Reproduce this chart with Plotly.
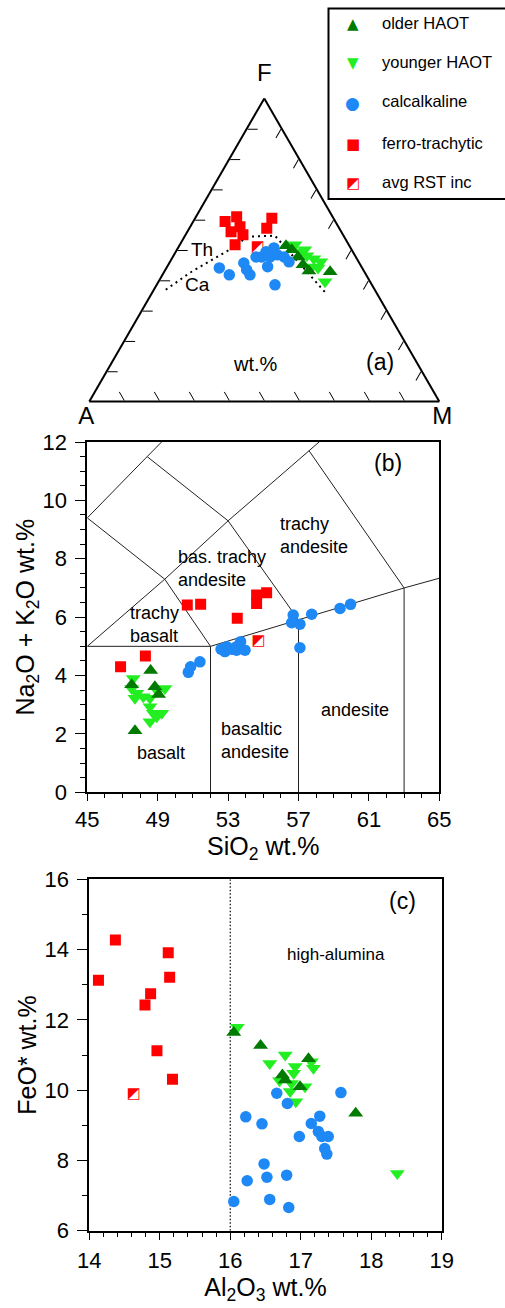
import plotly.graph_objects as go

# ---------------- data ----------------
# (a) AFM ternary (wt.%): F (top), A (bottom-left), M (bottom-right)
old_F = [51.4, 47.7, 45.1, 43.1, 42.8, 50.1]
old_A = [18.1, 16.5, 16.4, 15.7, 9.8, 17.1]
old_M = [30.5, 35.8, 38.5, 41.2, 47.4, 32.8]

young_F = [51.7, 49.4, 48.1, 47.1, 46.1, 44.4, 39.5, 50.1, 44.1]
young_A = [15.4, 15.1, 13.8, 12.3, 10.8, 14.2, 12.9, 13.4, 12.6]
young_M = [32.9, 35.5, 38.1, 40.6, 43.1, 41.4, 47.6, 36.5, 43.3]

calc_F = [44.1, 41.8, 45.7, 43.5, 41.8, 47.7, 44.5, 47.7, 50.7, 48.4, 47.7, 46.1, 38.5, 47.7, 49.4]
calc_A = [40.8, 39.1, 33.0, 33.3, 33.2, 26.9, 26.8, 24.5, 21.9, 22.1, 20.5, 19.9, 27.7, 28.5, 24.8]
calc_M = [15.1, 19.1, 21.3, 23.2, 25.0, 25.4, 28.7, 27.8, 27.4, 29.5, 31.8, 34.0, 33.8, 23.8, 25.8]

ferro_F = [59.4, 61.0, 57.7, 56.0, 55.0, 51.7, 60.5, 57.2]
ferro_A = [31.5, 27.4, 28.1, 31.5, 28.6, 32.5, 17.6, 20.7]
ferro_M = [9.1, 11.6, 14.2, 12.5, 16.4, 15.8, 21.9, 22.1]

avg_F = [50.8]
avg_A = [26.5]
avg_M = [22.7]

# tholeiitic / calc-alkaline divide (dotted)
thca_F = [36.9, 42.5, 50.2, 54.4, 54.7, 51.0, 36.0]
thca_A = [59.7, 50.0, 34.7, 27.5, 19.6, 18.6, 14.6]
thca_M = [3.4, 7.5, 15.1, 18.1, 25.7, 30.4, 49.4]

# (b) TAS: SiO2 vs Na2O+K2O
old_si = [48.60, 47.52, 48.84, 49.05, 47.71]
old_alk = [4.17, 3.68, 3.62, 3.35, 2.11]
young_si = [47.61, 47.52, 47.81, 48.18, 48.56, 49.41, 48.56, 48.75, 49.23, 48.56, 48.94, 47.71, 49.00]
young_alk = [3.90, 3.56, 3.39, 3.27, 3.22, 3.56, 2.93, 2.71, 2.71, 2.42, 2.59, 3.22, 3.45]
calc_si = [50.74, 50.87, 51.40, 52.82, 52.92, 53.20, 53.48, 53.71, 53.48, 53.96,
           56.70, 56.61, 57.08, 57.08, 57.75, 59.36, 59.96, 52.60]
calc_alk = [4.11, 4.30, 4.47, 4.82, 4.99, 4.90, 4.99, 5.16, 4.87, 4.87,
            6.07, 5.81, 5.76, 4.95, 6.10, 6.30, 6.44, 4.90]
ferro_si = [46.89, 48.30, 50.68, 51.44, 53.52, 54.62, 54.62, 55.19]
ferro_alk = [4.30, 4.67, 6.42, 6.44, 5.96, 6.47, 6.76, 6.84]
avg_si = [54.72]
avg_alk = [5.18]

# TAS field boundaries (Le Bas et al. 1986), polylines
tas_lines = [
    [(45, 5), (52, 5)],
    [(52, 0), (52, 5)],
    [(52, 5), (57, 5.9), (63, 7), (69, 8)],
    [(57, 0), (57, 5.9)],
    [(63, 0), (63, 7)],
    [(45, 5), (49.4, 7.3), (52, 5)],
    [(49.4, 7.3), (53, 9.3), (57, 5.9)],
    [(53, 9.3), (57.6, 11.7), (63, 7)],
    [(45, 9.4), (49.4, 7.3)],
    [(45, 9.4), (48.4, 11.5), (53, 9.3)],
    [(48.4, 11.5), (52.5, 14)],
    [(57.6, 11.7), (61, 13.5)],
]

# (c) Al2O3 vs FeO*
old_al = [16.05, 16.43, 16.74, 16.78, 16.99, 17.11, 17.78]
old_fe = [11.64, 11.27, 10.43, 10.29, 10.10, 10.89, 9.34]
young_al = [16.10, 16.56, 16.78, 16.92, 16.90, 17.15, 17.18, 16.70, 16.87, 16.85, 17.06, 16.93, 18.37]
young_fe = [11.79, 10.76, 11.00, 10.67, 10.48, 10.81, 10.62, 10.27, 10.19, 9.96, 10.10, 9.67, 7.63]
calc_al = [16.66, 16.81, 17.57, 16.22, 16.45, 17.27, 17.15, 17.25, 17.30, 17.39,
           16.98, 17.34, 17.37, 16.48, 16.52, 16.80, 16.24, 16.05, 16.56, 16.83]
calc_fe = [9.91, 9.62, 9.93, 9.24, 9.04, 9.26, 9.05, 8.82, 8.68, 8.68,
           8.68, 8.34, 8.18, 7.90, 7.52, 7.58, 7.42, 6.83, 6.89, 6.66]
ferro_al = [14.13, 14.37, 15.12, 15.14, 14.87, 14.79, 14.96, 15.18]
ferro_fe = [13.13, 14.27, 13.91, 13.21, 12.74, 12.42, 11.12, 10.31]
avg_al = [14.63]
avg_fe = [9.89]
high_alumina_limit = 16

legend_names = ["older HAOT", "younger HAOT", "calcalkaline", "ferro-trachytic", "avg RST inc"]

# ---------------- styles ----------------
W, H = 505, 1308
FONT = "Liberation Sans, Arial, Helvetica, sans-serif"
SYMF = "DejaVu Sans"
C_OLD = "#007a00"
C_YOUNG = "#22ee22"
C_CALC = "#1e88f5"
C_FERRO = "#ff0000"
HALF = "\u25E9"


def px(x):
    return x / W


def py(y):
    return 1 - y / H


styles = {
    "old": dict(symbol="triangle-up", size=13, color=C_OLD),
    "young": dict(symbol="triangle-down", size=13, color=C_YOUNG),
    "calc": dict(symbol="circle", size=11.5, color=C_CALC),
    "ferro": dict(symbol="square", size=11, color=C_FERRO),
}

fig = go.Figure()

# ---- (a) ternary ----
fig.add_trace(go.Scatterternary(a=thca_F, b=thca_A, c=thca_M, mode="lines",
                                line=dict(color="black", width=2, dash="2px,4px"),
                                showlegend=False, subplot="ternary", hoverinfo="skip"))
fig.add_trace(go.Scatterternary(a=ferro_F, b=ferro_A, c=ferro_M, mode="markers",
                                marker=dict(**styles["ferro"], line=dict(width=0)),
                                showlegend=False, subplot="ternary"))
fig.add_trace(go.Scatterternary(a=avg_F, b=avg_A, c=avg_M, mode="text", text=[HALF],
                                textfont=dict(family=SYMF, size=15, color=C_FERRO),
                                showlegend=False, subplot="ternary"))
for key, (F, A, M) in [("young", (young_F, young_A, young_M)),
                       ("old", (old_F, old_A, old_M)),
                       ("calc", (calc_F, calc_A, calc_M))]:
    fig.add_trace(go.Scatterternary(a=F, b=A, c=M, mode="markers",
                                    marker=dict(**styles[key], line=dict(width=0)),
                                    showlegend=False, subplot="ternary"))

# ---- (b) TAS ----
for seg in tas_lines:
    fig.add_trace(go.Scatter(x=[p[0] for p in seg], y=[p[1] for p in seg], mode="lines",
                             line=dict(color="#222222", width=1), showlegend=False,
                             hoverinfo="skip", xaxis="x", yaxis="y"))
fig.add_trace(go.Scatter(x=ferro_si, y=ferro_alk, mode="markers", marker=dict(**styles["ferro"]),
                         showlegend=False, xaxis="x", yaxis="y"))
fig.add_trace(go.Scatter(x=avg_si, y=avg_alk, mode="text", text=[HALF],
                         textfont=dict(family=SYMF, size=15, color=C_FERRO),
                         showlegend=False, xaxis="x", yaxis="y"))
for key, (xs, ys) in [("young", (young_si, young_alk)), ("old", (old_si, old_alk)),
                      ("calc", (calc_si, calc_alk))]:
    fig.add_trace(go.Scatter(x=xs, y=ys, mode="markers", marker=dict(**styles[key]),
                             showlegend=False, xaxis="x", yaxis="y"))

# ---- (c) Al2O3 vs FeO* ----
fig.add_trace(go.Scatter(x=[high_alumina_limit, high_alumina_limit], y=[6, 16], mode="lines",
                         line=dict(color="black", width=1.2, dash="1.5px,2px"),
                         showlegend=False, hoverinfo="skip", xaxis="x2", yaxis="y2"))
fig.add_trace(go.Scatter(x=ferro_al, y=ferro_fe, mode="markers", marker=dict(**styles["ferro"]),
                         showlegend=False, xaxis="x2", yaxis="y2"))
fig.add_trace(go.Scatter(x=avg_al, y=avg_fe, mode="text", text=[HALF],
                         textfont=dict(family=SYMF, size=15, color=C_FERRO),
                         showlegend=False, xaxis="x2", yaxis="y2"))
for key, (xs, ys) in [("young", (young_al, young_fe)), ("old", (old_al, old_fe)),
                      ("calc", (calc_al, calc_fe))]:
    fig.add_trace(go.Scatter(x=xs, y=ys, mode="markers", marker=dict(**styles[key]),
                             showlegend=False, xaxis="x2", yaxis="y2"))

# ---------------- layout ----------------
CORNERF = dict(size=24, family=FONT, color="black")


def tern_ax(title):
    return dict(min=0, showgrid=False, showline=True, linecolor="black", linewidth=2,
                ticks="inside", ticklen=10, tickwidth=1.2, tickcolor="black",
                tickmode="linear", tick0=0, dtick=10, showticklabels=False,
                title=dict(text=title, font=CORNERF))


TICKF = dict(size=22, family=FONT, color="black")
TITLEF = dict(size=25, family=FONT, color="black")
common_ax = dict(showline=True, linecolor="black", linewidth=2, mirror=True,
                 ticks="outside", tickcolor="black", tickwidth=1.2, showgrid=False,
                 zeroline=False, tickfont=TICKF, automargin=False)

fig.update_layout(
    template="none",
    width=W, height=H, autosize=False,
    margin=dict(l=0, r=0, t=0, b=0, pad=0),
    paper_bgcolor="white", plot_bgcolor="white",
    font=dict(family=FONT, color="black"),
    showlegend=False,
    ternary=dict(sum=100, bgcolor="white",
                 domain=dict(x=[px(89.3), px(439.3)], y=[py(401.7), py(98.3)]),
                 aaxis=tern_ax(""), baxis=tern_ax("A"), caxis=tern_ax("M")),
    xaxis=dict(**common_ax, domain=[px(87.3), px(439.3)], range=[45, 65],
               tickmode="linear", tick0=45, dtick=4, ticklen=7, ticklabelstandoff=-1,
               minor=dict(dtick=1, ticks="outside", ticklen=4, tickcolor="black", tickwidth=1),
               title=dict(text="SiO<sub>2</sub> wt.%", font=TITLEF, standoff=0),
               anchor="y"),
    yaxis=dict(**common_ax, domain=[py(792.3), py(442)], range=[0, 12],
               tickmode="linear", tick0=0, dtick=2, ticklen=10, ticklabelstandoff=4,
               minor=dict(dtick=0.5, ticks="outside", ticklen=5, tickcolor="black", tickwidth=1),
               title=dict(text="Na<sub>2</sub>O + K<sub>2</sub>O wt.%", font=TITLEF, standoff=1),
               anchor="x"),
    xaxis2=dict(**common_ax, domain=[px(89.3), px(441.7)], range=[14, 19],
                tickmode="linear", tick0=14, dtick=1, ticklen=7, ticklabelstandoff=2,
                minor=dict(dtick=0.2, ticks="outside", ticklen=4, tickcolor="black", tickwidth=1),
                title=dict(text="Al<sub>2</sub>O<sub>3</sub> wt.%", font=TITLEF, standoff=0),
                anchor="y2"),
    yaxis2=dict(**common_ax, domain=[py(1230.7), py(879.3)], range=[6, 16],
                tickmode="linear", tick0=6, dtick=2, ticklen=10, ticklabelstandoff=4,
                minor=dict(dtick=1, ticks="outside", ticklen=5, tickcolor="black", tickwidth=1),
                title=dict(text="FeO* wt.%", font=TITLEF, standoff=1),
                anchor="x2"),
)

ann = []


def txt(x, y, s, size=18, xref="paper", yref="paper", xanchor="center", align="center", family=FONT, color="black"):
    ann.append(dict(x=x, y=y, xref=xref, yref=yref, text=s, showarrow=False,
                    xanchor=xanchor, yanchor="middle", align=align,
                    font=dict(size=size, family=family, color=color)))


# ternary labels
txt(px(264.7), py(72), "F", size=24)
txt(px(201.7), py(249.3), "Th", size=19)
txt(px(197), py(284), "Ca", size=19)
txt(px(255), py(364), "wt.%", size=20)
txt(px(380), py(362), "(a)", size=23)

# TAS field names
txt(55.85, 8.79, "trachy<br>andesite", xref="x", yref="y", xanchor="left", align="left")
txt(50.02, 7.67, "bas. trachy<br>andesite", xref="x", yref="y", xanchor="left", align="left")
txt(47.33, 5.74, "trachy<br>basalt", xref="x", yref="y", xanchor="left", align="left")
txt(49.17, 1.34, "basalt", xref="x", yref="y")
txt(52.48, 1.79, "basaltic<br>andesite", xref="x", yref="y", xanchor="left", align="left")
txt(60.21, 2.82, "andesite", xref="x", yref="y")
txt(62.1, 11.27, "(b)", size=23, xref="x", yref="y")

# (c) labels
txt(17.50, 13.87, "high-alumina", size=17, xref="x2", yref="y2")
txt(18.45, 15.39, "(c)", size=23, xref="x2", yref="y2")

# legend (custom box)
leg_icons = ["\u25B2", "\u25BC", "\u25CF", "\u25A0", HALF]
leg_colors = [C_OLD, C_YOUNG, C_CALC, C_FERRO, C_FERRO]
leg_icon_size = [15, 15, 17, 15, 15]
leg_y = [24, 63.3, 103.3, 144, 183.3]
leg_text_y = [22.7, 61.7, 101, 142.7, 181.7]
for name, ic, col, isz, yi, yt in zip(legend_names, leg_icons, leg_colors, leg_icon_size, leg_y, leg_text_y):
    txt(px(352.7), py(yi), ic, size=isz, family=SYMF, color=col)
    txt(px(380), py(yt), name, size=16.5, xanchor="left", align="left")

fig.update_layout(annotations=ann,
                  shapes=[dict(type="rect", xref="paper", yref="paper",
                               x0=px(328.5), x1=px(520), y0=py(199), y1=py(8.5),
                               line=dict(color="black", width=2), fillcolor="rgba(0,0,0,0)")])

fig.write_html("out.html")
